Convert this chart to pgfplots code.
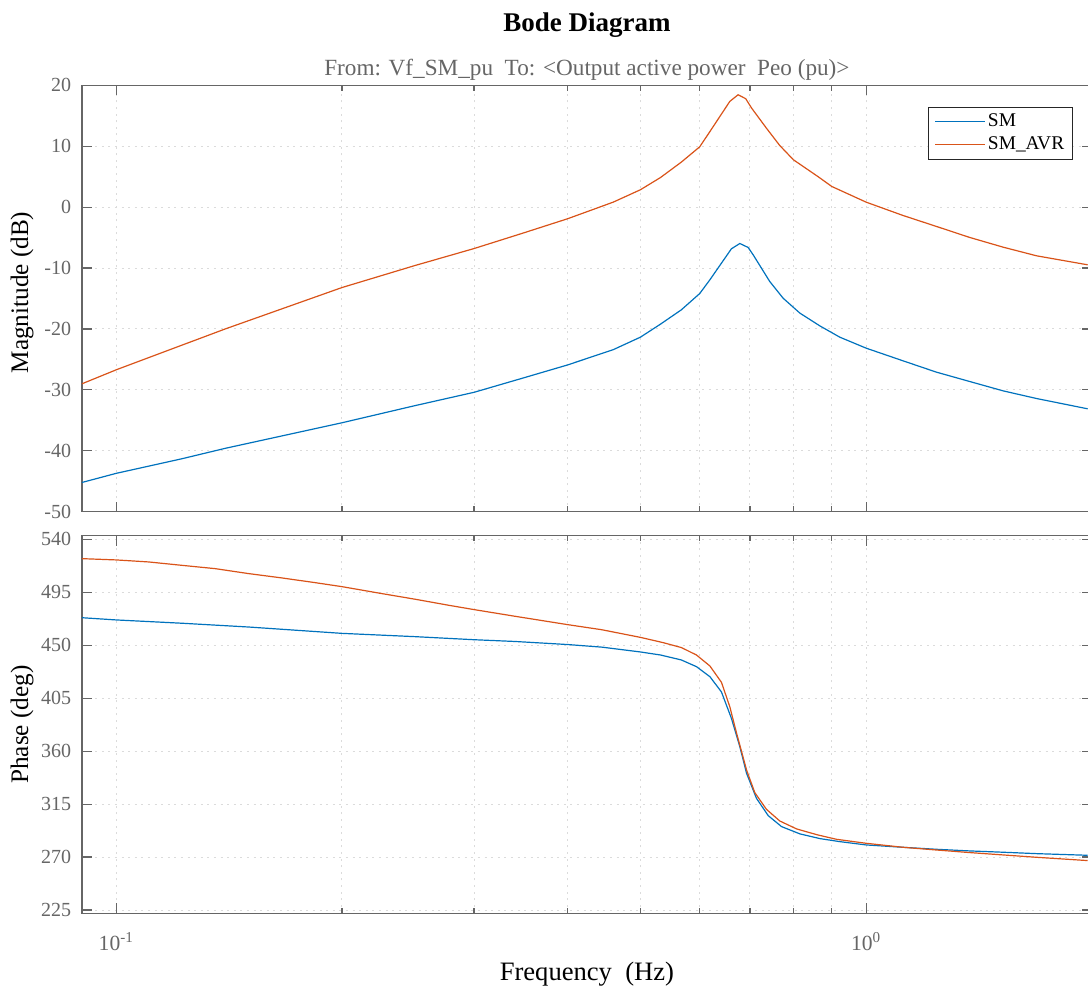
\documentclass[border=0pt]{standalone}
\usepackage{fontspec}
\setmainfont{Liberation Serif}
\usepackage{pgfplots}
\usepackage{pgfplotstable}
\pgfplotsset{compat=1.18}

\definecolor{mblue}{rgb}{0,0.447,0.741}
\definecolor{morange}{rgb}{0.85,0.325,0.098}
\definecolor{axgray}{rgb}{0.4,0.4,0.4}
\definecolor{gridgray}{rgb}{0.86,0.86,0.86}

% Frequency response of SM (without AVR): f [Hz], magnitude [dB]
\pgfplotstableread{
f      mag
0.09   -45.2
0.1    -43.7
0.1224 -41.3
0.1397 -39.6
0.2    -35.4
0.25   -32.6
0.3    -30.4
0.35   -28.0
0.4    -25.9
0.46   -23.4
0.5    -21.35
0.532  -19.2
0.567  -16.86
0.6    -14.18
0.619  -11.93
0.6613 -6.84
0.6786 -5.97
0.6962 -6.62
0.707  -7.83
0.7438 -12.2
0.775  -14.94
0.816  -17.4
0.8675 -19.49
0.9224 -21.35
1.0    -23.15
1.12   -25.23
1.241  -27.09
1.375  -28.63
1.523  -30.16
1.688  -31.42
1.975  -33.11
}\magSM

% Frequency response of SM with AVR: f [Hz], magnitude [dB]
\pgfplotstableread{
f      mag
0.09   -29.0
0.1    -26.7
0.1397 -20.0
0.2    -13.2
0.25   -9.6
0.3    -6.8
0.35   -4.2
0.4    -1.9
0.46   0.82
0.5    2.85
0.532  4.87
0.567  7.39
0.6    9.91
0.619  12.4
0.658  17.35
0.675  18.45
0.691  17.8
0.7036 16.26
0.7363 12.97
0.767  10.13
0.8    7.77
0.862  5.04
0.9    3.39
1.0    0.82
1.12   -1.37
1.241  -3.17
1.375  -4.98
1.523  -6.57
1.688  -7.99
1.975  -9.47
}\magAVR

% Phase of SM: f [Hz], phase [deg]
\pgfplotstableread{
f      ph
0.09   473.4
0.1    471.5
0.1224 468.7
0.1501 465.5
0.2    460.1
0.2504 457.3
0.3    454.7
0.3404 453.2
0.4    450.6
0.444  448.4
0.5    444.3
0.532  441.7
0.567  437.5
0.594  431.8
0.619  423.3
0.6414 410.3
0.6613 387.9
0.6786 363.8
0.6928 341.2
0.714  320.0
0.7404 305.2
0.7713 295.9
0.816  289.7
0.8675 285.7
0.9224 283.1
1.0    280.3
1.12   278.3
1.241  276.6
1.375  275.2
1.523  274.1
1.688  272.9
1.975  271.5
}\phSM

% Phase of SM with AVR: f [Hz], phase [deg]
\pgfplotstableread{
f      ph
0.09   523.6
0.1    522.5
0.1104 520.8
0.1224 517.9
0.1355 515.1
0.1501 510.9
0.1663 507.2
0.1842 503.2
0.2    499.8
0.226  493.9
0.2504 489.1
0.2774 484.0
0.3    480.3
0.3404 474.6
0.4    467.5
0.444  463.2
0.5    456.7
0.5364 452.2
0.5673 448.0
0.594  441.7
0.619  432.4
0.6414 418.5
0.658  397.8
0.6719 375.2
0.6928 344.0
0.7105 324.8
0.7363 310.6
0.767  300.7
0.8078 293.9
0.862  288.8
0.913  285.1
1.0    281.7
1.12   278.3
1.241  276.0
1.375  273.8
1.523  271.8
1.688  269.8
1.975  267.0
}\phAVR

\begin{document}
\begin{tikzpicture}
% Phase
\begin{axis}[
  scale only axis,
  width=504.9pt, height=188.8pt,
  at={(0pt,0pt)}, anchor=south west,
  xmode=log, xmin=0.09, xmax=2,
  ymin=222.2, ymax=543.1,
  axis line style={axgray, line width=0.6pt},
  tick style={axgray, line width=0.6pt},
  tick align=inside,
  major tick length=5pt,
  minor tick length=2.8pt,
  xtick={0.1,1},
  minor xtick={0.2,0.3,0.4,0.5,0.6,0.7,0.8,0.9,2},
  xmajorgrids, xminorgrids, ymajorgrids,
  major grid style={gridgray, line width=0.5pt, dash pattern=on 1pt off 2.3pt},
  minor grid style={gridgray, line width=0.5pt, dash pattern=on 1pt off 2.3pt},
  ticklabel style={font=\fontsize{10}{12}\selectfont, text=axgray},
  yticklabel style={xshift=-1.9pt},
  ytick={225,270,315,360,405,450,495,540},
  yticklabels={225,270,315,360,405,450,495,540},
  xticklabels={10\textsuperscript{-1},10\textsuperscript{0}},
  xticklabel style={yshift=-6.2pt, font=\fontsize{10.8}{12}\selectfont},
]
\addplot[mblue, line width=0.6pt] table[x=f,y=ph] {\phSM};
\addplot[morange, line width=0.6pt] table[x=f,y=ph] {\phAVR};
\end{axis}

% Magnitude
\begin{axis}[
  scale only axis,
  width=504.9pt, height=213.2pt,
  at={(0pt,200.8pt)}, anchor=south west,
  xmode=log, xmin=0.09, xmax=2,
  ymin=-50, ymax=20,
  axis line style={axgray, line width=0.6pt},
  tick style={axgray, line width=0.6pt},
  tick align=inside,
  major tick length=5pt,
  minor tick length=2.8pt,
  xtick={0.1,1},
  minor xtick={0.2,0.3,0.4,0.5,0.6,0.7,0.8,0.9,2},
  xmajorgrids, xminorgrids, ymajorgrids,
  major grid style={gridgray, line width=0.5pt, dash pattern=on 1pt off 2.3pt},
  minor grid style={gridgray, line width=0.5pt, dash pattern=on 1pt off 2.3pt},
  ticklabel style={font=\fontsize{10}{12}\selectfont, text=axgray},
  yticklabel style={xshift=-1.9pt},
  ytick={-50,-40,-30,-20,-10,0,10,20},
  yticklabels={-50,-40,-30,-20,-10,0,10,20},
  xticklabels={},
  legend cell align=left,
  legend image code/.code={\draw[#1, line width=0.6pt] (0pt,0.3pt) -- (25pt,0.3pt);},
  legend style={at={(rel axis cs:1,1)}, anchor=north east,
    xshift=-9.55pt, yshift=-10.7pt,
    draw=black!85, line width=0.5pt, fill=white,
    font=\fontsize{9.7}{11}\selectfont,
    inner xsep=3pt, inner ysep=1.5pt, row sep=0pt,
    nodes={inner sep=1pt, text height=7.2pt, text depth=2.4pt}},
]
\addplot[mblue, line width=0.6pt] table[x=f,y=mag] {\magSM};
\addlegendentry{SM}
\addplot[morange, line width=0.6pt] table[x=f,y=mag] {\magAVR};
\addlegendentry{SM\_AVR}
\end{axis}

% Titles and axis labels
\node[font=\bfseries\fontsize{13.5}{16}\selectfont] at (252.45pt,444.1pt) {Bode Diagram};
\node[font=\fontsize{11.6}{14}\selectfont, text=axgray] at (252.45pt,421.6pt)
  {From: Vf\_SM\_pu\ \ To: <Output active power\ \ Peo (pu)>};
\node[font=\fontsize{13.3}{16}\selectfont] at (252.45pt,-30.6pt) {Frequency\ \ (Hz)};
\node[font=\fontsize{12.6}{15}\selectfont, rotate=90] at (-30pt,310.4pt) {Magnitude (dB)};
\node[font=\fontsize{12.6}{15}\selectfont, rotate=90] at (-30pt,94.4pt) {Phase (deg)};

\pgfresetboundingbox
\useasboundingbox (-41pt,-39.35pt) rectangle (503pt,456.65pt);
\end{tikzpicture}
\end{document}
